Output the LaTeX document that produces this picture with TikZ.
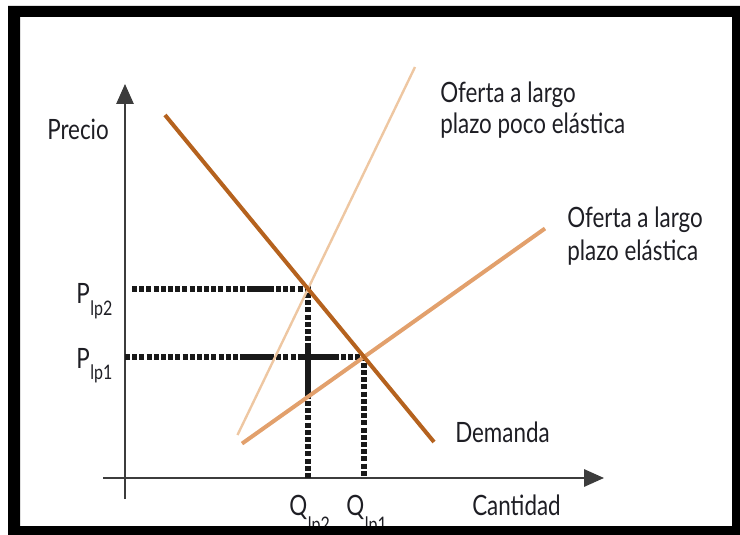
\documentclass[tikz,border=0pt]{standalone}
\usepackage{fontspec}
\setmainfont[FakeStretch=0.8]{Lato}
\usetikzlibrary{arrows.meta}
\definecolor{dem}{HTML}{B5621E}
\definecolor{sel}{HTML}{E2A06C}
\definecolor{sinel}{HTML}{EEC7A2}
\definecolor{axis}{HTML}{3C3C3C}
\definecolor{txt}{HTML}{1E1E24}
\newcommand{\lblsub}[3][-9pt]{#2\kern0.5pt\raisebox{#1}{\fontsize{15}{15}\selectfont #3}}
\tikzset{
  lbl/.style={inner sep=0pt, anchor=base west, text=txt, font=\fontsize{21}{25}\selectfont},
  axisline/.style={draw=axis, line width=1.6pt},
  guide/.style={draw=black!90, line width=4pt, dash pattern=on 3.8pt off 1.6pt},
  guidesolid/.style={draw=black!90, line width=5.2pt},
  tipstyle/.style={-{Triangle[length=15pt,width=13pt]}}
}
\begin{document}
\begin{tikzpicture}[x=0.75pt,y=-0.75pt]
\useasboundingbox (0,0) rectangle (740,535);
% key points
\coordinate (P2) at (308,289);
\coordinate (P1) at (364,357);
\coordinate (yb) at (125,499);
\coordinate (yt) at (125,84);
\coordinate (xl) at (103,478);
\coordinate (xr) at (604,478);
% axes
\draw[axisline, tipstyle, line width=1.3pt] (yb) -- (yt);
\draw[axisline, tipstyle] (xl) -- (xr);
% guides
\coordinate (h2) at (132,289);
\coordinate (h1) at (125,357);
\coordinate (v2) at (308,478);
\coordinate (v1) at (364,478);
\draw[guide] (h2) -- (P2) -- (v2);
\draw[guide] (h1) -- (P1) -- (v1);
\draw[guidesolid] (252,289) -- (273,289);
\draw[guidesolid] (243,357) -- (273,357);
\draw[guidesolid] (302,357) -- (335,357);
\draw[guidesolid] (308,343) -- (308,397);
% curves
\coordinate (sI1) at (237.5,435);
\coordinate (sI2) at (415,67);
\coordinate (sE1) at (242,443.6);
\coordinate (sE2) at (545,228.5);
\coordinate (d1) at (165,115);
\coordinate (d2) at (434,442);
\draw[sinel, line width=1.8pt] (sI1) -- (sI2);
\draw[sel, line width=3pt] (sE1) -- (sE2);
\draw[dem, line width=3pt] (d1) -- (d2);
% labels
\node[lbl] (precio) at (47,140) {Precio};
\node[lbl] (pl2) at (76,303) {\lblsub{P}{lp2}};
\node[lbl] (pl1) at (76,368) {\lblsub{P}{lp1}};
\node[lbl] (ql2) at (289,515) {\lblsub[-12pt]{Q}{lp2}};
\node[lbl] (ql1) at (346,515) {\lblsub[-12pt]{Q}{lp1}};
\node[lbl] (cant) at (472,515) {Cantidad};
\node[lbl] (dema) at (455,442) {Demanda};
\node[lbl] (oi1) at (440,103) {Oferta a largo};
\node[lbl] (oi2) at (440,134) {plazo poco elástica};
\node[lbl] (oe1) at (567,228) {Oferta a largo};
\node[lbl] (oe2) at (567,260) {plazo elástica};
% frame
\fill[black, even odd rule] (8,6) rectangle (740,535) (20,17) rectangle (732,526);
\end{tikzpicture}
\end{document}
